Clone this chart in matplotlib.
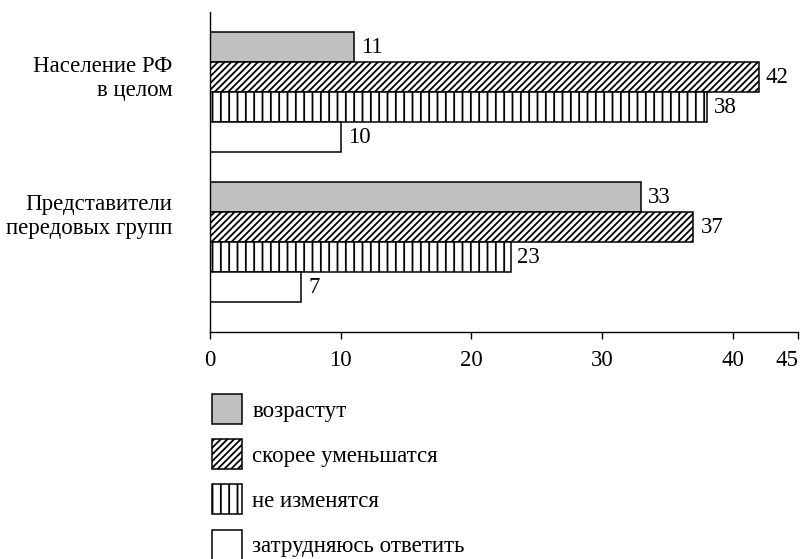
import numpy as np
import matplotlib
matplotlib.use("Agg")
import matplotlib.pyplot as plt

plt.rcParams["font.family"] = ["Liberation Serif", "DejaVu Serif"]
plt.rcParams["font.size"] = 16.5
plt.rcParams["hatch.linewidth"] = 1.3

# data
groups = ["Население РФ\nв целом", "Представители\nпередовых групп"]
series = ["возрастут", "скорее уменьшатся", "не изменятся", "затрудняюсь ответить"]
values = [
    [11, 33],   # возрастут
    [42, 37],   # скорее уменьшатся
    [38, 23],   # не изменятся
    [10, 7],    # затрудняюсь ответить
]
xticks = [0, 10, 20, 30, 40, 45]

# looks of each series
fills = ["#c0c0c0", "white", "white", "white"]
hatches = [None, "/////", "||", None]

fig = plt.figure(figsize=(8.02, 5.59), dpi=100)
ax = fig.add_axes([0.2618, 0.406, 0.7332, 0.5725])

group_center = np.array([8, 3])
offsets = [1.5, 0.5, -0.5, -1.5]

for i in range(len(series)):
    bars = ax.barh(group_center + offsets[i], values[i], height=1.0,
                   color=fills[i], edgecolor="black", linewidth=1.1,
                   hatch=hatches[i], label=series[i])
    ax.bar_label(bars, padding=5)

ax.set_xlim(0, 45)
ax.set_ylim(0, 10.67)
ax.set_xticks(xticks)
ax.set_xticklabels([str(t) for t in xticks])
ax.get_xticklabels()[-1].set_horizontalalignment("right")
ax.tick_params(axis="x", length=5, width=1, pad=8)

# group names sit a bit above the middle of each group
ax.set_yticks([8.6, 4.0])
ax.set_yticklabels(groups)
ax.tick_params(axis="y", length=0, pad=27)

ax.spines["top"].set_visible(False)
ax.spines["right"].set_visible(False)
ax.spines["left"].set_linewidth(1)
ax.spines["bottom"].set_linewidth(1)

fig.legend(loc="upper left", bbox_to_anchor=(212 / 802, 1 - 394 / 559),
           frameon=False, borderpad=0, borderaxespad=0,
           handlelength=1.31, handleheight=1.64, labelspacing=0.66,
           handletextpad=0.45)

fig.savefig("out.png", dpi=100)
